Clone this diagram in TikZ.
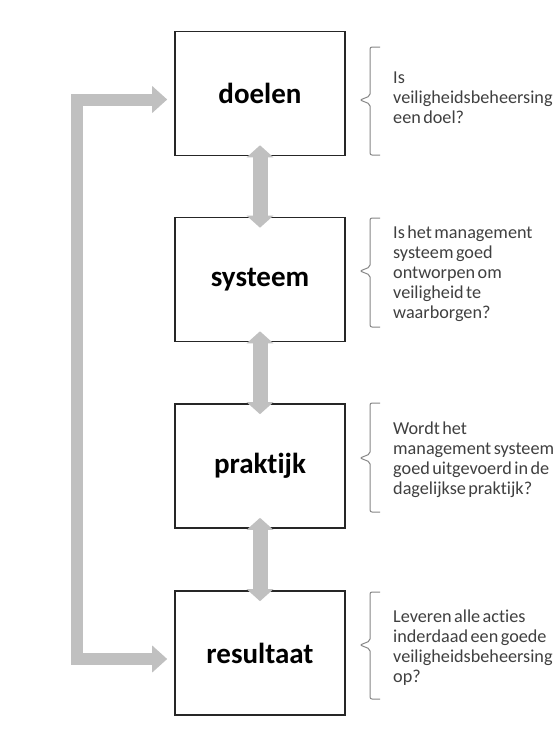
\documentclass[tikz,border=0pt]{standalone}
\usepackage{fontspec}
\setmainfont{Carlito}[Ligatures=NoCommon]
\newfontfamily\vraagfont{Carlito}[Ligatures=NoCommon, WordSpace=0.6]
\usetikzlibrary{arrows.meta}

\definecolor{arrowgray}{RGB}{192,192,192}
\definecolor{bracegray}{RGB}{135,135,135}
\definecolor{textgray}{RGB}{64,64,64}

\tikzstyle{stage}=[rectangle, draw=black!85, line width=1.6pt, minimum width=170pt, minimum height=124pt, font=\bfseries\fontsize{29}{33}\selectfont]
\tikzstyle{question}=[anchor=west, align=left, inner sep=0pt, text=textgray, font=\vraagfont\fontsize{18.2}{20}\selectfont]
\tikzstyle{flow}=[draw=arrowgray, line width=15pt, {Triangle[width=26pt,length=12pt]}-{Triangle[width=26pt,length=12pt]}, shorten <=-11pt, shorten >=-11pt]
\tikzstyle{feedback}=[draw=arrowgray, line width=12pt, line join=miter, {Triangle[width=26pt,length=15pt]}-{Triangle[width=26pt,length=15pt]}, shorten <=7pt, shorten >=7pt]
\tikzstyle{bracket}=[draw=bracegray, line width=1pt, rounded corners=2pt]

\begin{document}
\begin{tikzpicture}[x=1pt,y=-1pt]
\useasboundingbox[fill=white] (0,0) rectangle (557,736);

\node[stage] (doelen) at (260,93.5) {doelen};
\node[stage] (systeem) at (260,279.5) {systeem};
\node[stage] (praktijk) at (260,466) {praktijk};
\node[stage] (resultaat) at (260,653) {resultaat};

\draw[flow] (doelen) -- (systeem);
\draw[flow] (systeem) -- (praktijk);
\draw[flow] (praktijk) -- (resultaat);

\coordinate (turn) at (77,400);
\draw[feedback] ([yshift=-6pt]resultaat.west) -| (turn) |- ([yshift=-6pt]doelen.west);

% vragen rechts
\draw[bracket] (380,47) -- (370,47) -- (370,96) -- (360,100) -- (370,104) -- (370,155) -- (380,155);
\node[question] (vraag1) at (393,98) {Is\\veiligheidsbeheersing\\een doel?};

\draw[bracket] (380,218) -- (370,218) -- (370,267) -- (360,271) -- (370,275) -- (370,327) -- (380,327);
\node[question] (vraag2) at (393,274) {Is het management\\systeem goed\\ontworpen om\\veiligheid te\\waarborgen?};

\draw[bracket] (380,403) -- (370,403) -- (370,454) -- (360,458) -- (370,462) -- (370,512) -- (380,512);
\node[question] (vraag3) at (393,460) {Wordt het\\management systeem\\goed uitgevoerd in de\\dagelijkse praktijk?};

\draw[bracket] (380,592) -- (370,592) -- (370,641) -- (360,645) -- (370,649) -- (370,699) -- (380,699);
\node[question] (vraag4) at (393,648) {Leveren alle acties\\inderdaad een goede\\veiligheidsbeheersing\\op?};
\end{tikzpicture}
\end{document}
